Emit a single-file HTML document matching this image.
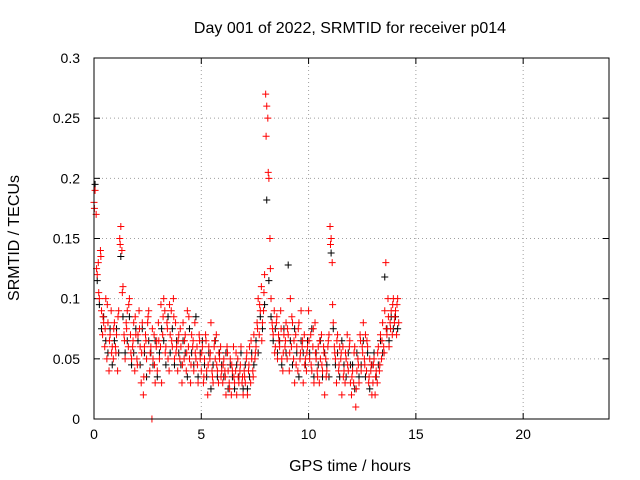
<!DOCTYPE html>
<html><head><meta charset="utf-8"><style>
html,body{margin:0;padding:0;background:#fff;}
svg{display:block;font-family:"Liberation Sans",sans-serif;}
</style></head><body>
<svg id="chart" width="640" height="480"></svg>
<script>
const xTicks=[0,5,10,15,20];
const yTicks=[0,0.05,0.1,0.15,0.2,0.25,0.3];
const yTickLabels=["0","0.05","0.1","0.15","0.2","0.25","0.3"];
const redStart=0.0, redStep=0.05;
const redValues=[
0.18,0.19,0.17,0.12,0.13,0.10,0.14,0.09,0.07,0.08,0.06,0.10,0.05,0.08,0.04,0.07,0.09,0.06,0.05,0.08,
0.06,0.07,0.04,0.09,0.15,0.16,0.14,0.11,0.07,0.05,0.08,0.09,0.06,0.10,0.07,0.05,0.06,0.08,0.04,0.07,
0.05,0.07,0.09,0.06,0.03,0.08,0.02,0.06,0.07,0.05,0.08,0.09,0.04,0.06,0.00,0.05,0.07,0.03,0.06,0.04,
0.08,0.05,0.06,0.03,0.07,0.10,0.09,0.06,0.08,0.05,0.04,0.07,0.09,0.06,0.10,0.05,0.08,0.06,0.04,0.07,
0.05,0.06,0.03,0.08,0.05,0.07,0.04,0.09,0.06,0.05,0.03,0.07,0.06,0.04,0.08,0.05,0.06,0.03,0.07,0.05,
0.04,0.06,0.03,0.05,0.07,0.04,0.02,0.06,0.05,0.08,0.04,0.03,0.06,0.05,0.07,0.04,0.03,0.05,0.06,0.04,
0.03,0.05,0.04,0.02,0.06,0.04,0.03,0.05,0.02,0.04,0.06,0.03,0.04,0.02,0.05,0.03,0.04,0.06,0.03,0.02,
0.04,0.03,0.05,0.02,0.04,0.06,0.03,0.05,0.04,0.07,0.05,0.06,0.08,0.10,0.07,0.09,0.11,0.08,0.09,0.12,
0.27,0.26,0.25,0.20,0.15,0.10,0.08,0.07,0.09,0.06,0.08,0.05,0.07,0.06,0.09,0.05,0.04,0.07,0.06,0.08,
0.05,0.07,0.04,0.10,0.06,0.08,0.05,0.03,0.07,0.06,0.04,0.08,0.05,0.09,0.06,0.03,0.07,0.05,0.04,0.06,
0.09,0.05,0.07,0.04,0.06,0.03,0.08,0.05,0.04,0.06,0.03,0.05,0.07,0.04,0.06,0.02,0.05,0.04,0.06,0.07,
0.16,0.15,0.13,0.08,0.06,0.05,0.03,0.07,0.04,0.06,0.05,0.02,0.06,0.04,0.03,0.05,0.07,0.04,0.06,0.03,
0.02,0.04,0.03,0.06,0.01,0.04,0.05,0.03,0.07,0.04,0.06,0.08,0.05,0.07,0.04,0.06,0.03,0.05,0.04,0.02,
0.03,0.05,0.02,0.04,0.03,0.06,0.04,0.07,0.05,0.08,0.06,0.09,0.13,0.07,0.10,0.06,0.08,0.09,0.07,0.10,
0.08,0.09,0.07,0.10,0.08];
const red2Start=0.02, red2Step=0.1;
const red2Values=[
0.175,0.125,0.105,0.135,0.085,0.075,0.095,0.065,0.055,0.075,
0.055,0.085,0.145,0.105,0.065,0.075,0.095,0.055,0.065,0.085,
0.045,0.075,0.055,0.035,0.065,0.085,0.055,0.075,0.045,0.065,
0.065,0.095,0.085,0.055,0.075,0.095,0.065,0.085,0.055,0.065,
0.075,0.045,0.065,0.055,0.085,0.045,0.065,0.055,0.045,0.065,
0.055,0.035,0.065,0.045,0.055,0.035,0.065,0.045,0.055,0.035,
0.045,0.035,0.055,0.025,0.045,0.035,0.055,0.035,0.045,0.035,
0.035,0.055,0.045,0.065,0.035,0.055,0.075,0.095,0.065,0.105,
0.235,0.205,0.125,0.075,0.055,0.085,0.065,0.075,0.055,0.065,
0.075,0.055,0.085,0.065,0.045,0.075,0.055,0.065,0.045,0.055,
0.065,0.045,0.075,0.055,0.035,0.065,0.045,0.055,0.035,0.065,
0.145,0.095,0.055,0.065,0.045,0.055,0.035,0.055,0.045,0.065,
0.035,0.055,0.025,0.045,0.065,0.055,0.045,0.065,0.035,0.045,
0.045,0.035,0.055,0.045,0.065,0.055,0.075,0.085,0.075,0.095,
0.085,0.095];
const blackStart=0.05, blackStep=0.1;
const blackValues=[
0.195,0.115,0.095,0.075,0.085,0.065,0.055,0.075,0.045,0.065,
0.075,0.055,0.135,0.085,0.055,0.065,0.085,0.045,0.055,0.075,
0.065,0.045,0.075,0.055,0.035,0.065,0.055,0.045,0.065,0.035,
0.055,0.075,0.065,0.045,0.085,0.055,0.075,0.045,0.065,0.055,
0.045,0.065,0.055,0.035,0.075,0.055,0.045,0.085,0.035,0.055,
0.065,0.045,0.035,0.055,0.025,0.045,0.065,0.035,0.055,0.045,
0.035,0.055,0.025,0.045,0.035,0.025,0.045,0.035,0.055,0.025,
0.045,0.025,0.035,0.055,0.045,0.065,0.055,0.085,0.075,0.095,
0.182,0.115,0.085,0.065,0.075,0.055,0.065,0.045,0.075,0.055,
0.128,0.065,0.045,0.075,0.055,0.035,0.065,0.055,0.045,0.065,
0.055,0.075,0.035,0.055,0.045,0.065,0.035,0.055,0.045,0.035,
0.138,0.075,0.045,0.055,0.035,0.065,0.045,0.035,0.055,0.045,
0.045,0.025,0.055,0.035,0.045,0.065,0.035,0.055,0.025,0.045,
0.055,0.035,0.045,0.065,0.055,0.118,0.075,0.065,0.085,0.075,
0.085,0.075];

const L=94,R=609,T=58,B=419;
const xMax=24,yMax=0.3;
const sx=v=>L+(v/xMax)*(R-L);
const sy=v=>B-(v/yMax)*(B-T);
const svg=document.getElementById('chart');
const NS='http://www.w3.org/2000/svg';
function mk(tag,attrs,parent){const e=document.createElementNS(NS,tag);for(const k in attrs)e.setAttribute(k,attrs[k]);(parent||svg).appendChild(e);return e;}

xTicks.forEach((t,i)=>{
  if(t>0){const g=mk('line',{x1:sx(t),x2:sx(t),y1:T,y2:B,stroke:'#a0a0a0','stroke-dasharray':'1,3'});
  
  }
  const tk=mk('line',{x1:sx(t),x2:sx(t),y1:B,y2:B-6,stroke:'#000'});
  
  
  const tk2=mk('line',{x1:sx(t),x2:sx(t),y1:T,y2:T+6,stroke:'#000'});
  
  
  const lb=mk('text',{x:sx(t),y:B+20,'text-anchor':'middle','font-size':'14',fill:'#000'});
  lb.textContent=String(t);
  
  
});
yTicks.forEach((t,i)=>{
  if(t>0&&t<yMax){const g=mk('line',{x1:L,x2:R,y1:sy(t),y2:sy(t),stroke:'#a0a0a0','stroke-dasharray':'1,3'});
  
  }
  const tk=mk('line',{x1:L,x2:L+6,y1:sy(t),y2:sy(t),stroke:'#000'});
  
  
  const tk2=mk('line',{x1:R,x2:R-6,y1:sy(t),y2:sy(t),stroke:'#000'});
  
  
  const lb=mk('text',{x:L-14,y:sy(t)+5,'text-anchor':'end','font-size':'14',fill:'#000'});
  lb.textContent=yTickLabels[i];
  
  
});

function plus(x,y,color,name){
  const p=mk('path',{d:`M${x-3.5},${y}h7M${x},${y-3.5}v7`,stroke:color,'stroke-width':'1',fill:'none'});
  
  
}
blackValues.forEach((v,i)=>plus(sx(blackStart+i*blackStep),sy(v),'#000','black-point'));
red2Values.forEach((v,i)=>plus(sx(red2Start+i*red2Step),sy(v),'#f00','red-point'));
redValues.forEach((v,i)=>plus(sx(redStart+i*redStep),sy(v),'#f00','red-point'));

const fr=mk('rect',{x:L,y:T,width:R-L,height:B-T,fill:'none',stroke:'#000','stroke-width':'1'});



const title=mk('text',{x:350,y:33,'text-anchor':'middle','font-size':'16',fill:'#000'});
title.textContent='Day 001 of 2022, SRMTID for receiver p014';


const xt=mk('text',{x:350,y:471,'text-anchor':'middle','font-size':'16',fill:'#000'});
xt.textContent='GPS time / hours';


const yt=mk('text',{x:0,y:0,'text-anchor':'middle','font-size':'16',fill:'#000',transform:'translate(19,238) rotate(-90)'});
yt.textContent='SRMTID / TECUs';


</script>
</body></html>
